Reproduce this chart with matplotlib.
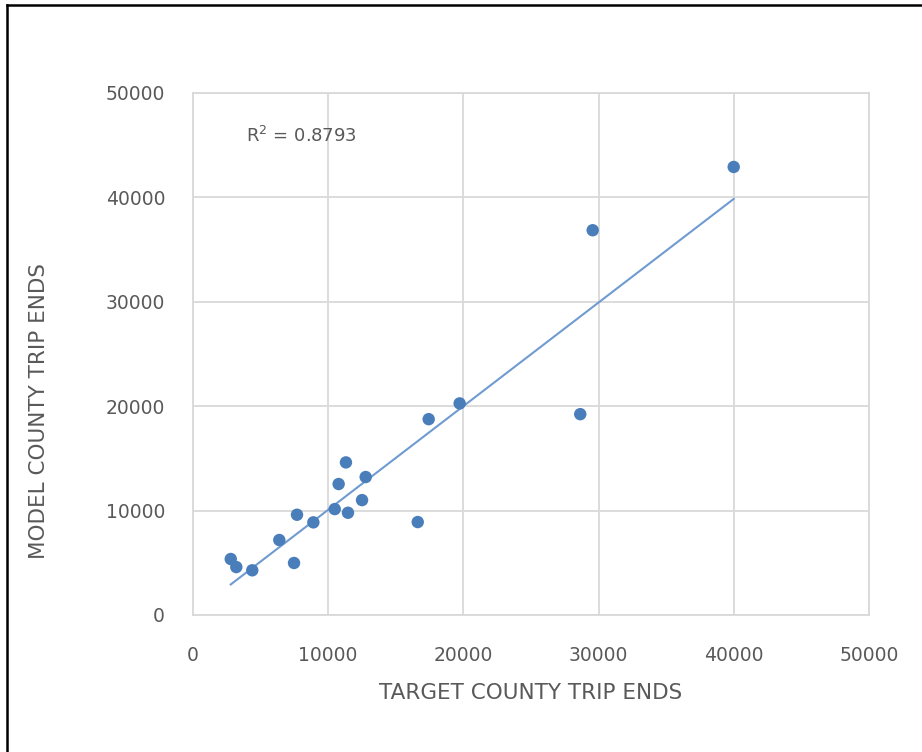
import numpy as np
import matplotlib
matplotlib.use("Agg")
import matplotlib.pyplot as plt
from matplotlib.lines import Line2D

target = [40000, 29570, 28650, 19730, 17440, 11320, 10780, 12780, 12510, 10490,
          11470, 16630, 7700, 8910, 6390, 7480, 2800, 3210, 4390]
model = [42900, 36840, 19230, 20260, 18750, 14610, 12540, 13210, 11000, 10140,
         9790, 8900, 9600, 8870, 7180, 4980, 5360, 4590, 4280]
ticks = [0, 10000, 20000, 30000, 40000, 50000]
r2_text = "R$^2$ = 0.8793"

x = np.array(target, dtype=float)
y = np.array(model, dtype=float)

fig = plt.figure(figsize=(9.22, 7.52), dpi=100)
W, H = 922, 752
ax = fig.add_axes([192.9 / W, 1 - 615 / H, (868.9 - 192.9) / W, (615 - 92.8) / H])

grid_c = "#D9D9D9"
text_c = "#595959"
ax.set_xlim(0, 50000)
ax.set_ylim(0, 50000)
ax.set_xticks(ticks)
ax.set_yticks(ticks)
ax.set_xticklabels([str(t) for t in ticks])
ax.set_yticklabels([str(t) for t in ticks])
ax.grid(True, color=grid_c, linewidth=1.3)
ax.set_axisbelow(True)
for s in ax.spines.values():
    s.set_color(grid_c)
    s.set_linewidth(1.3)
ax.tick_params(length=0, labelsize=13.5, labelcolor=text_c)
ax.tick_params(axis="x", pad=22)
ax.tick_params(axis="y", pad=20)

slope, intercept = np.polyfit(x, y, 1)
xl = np.array([x.min(), x.max()])
ax.plot(xl, slope * xl + intercept, color="#6F9BD1", linewidth=1.5, zorder=2)
ax.scatter(x, y, s=80, color="#4A7EBB", edgecolors="none", zorder=3)

ax.text(3930, 45840, r2_text, fontsize=13, color=text_c, va="center", ha="left")

ax.set_xlabel("TARGET COUNTY TRIP ENDS", fontsize=15.5, color=text_c, labelpad=13)
ax.set_ylabel("MODEL COUNTY TRIP ENDS", fontsize=15.5, color=text_c, labelpad=41)
ax.yaxis.label.set_y(0.39)

fig.add_artist(Line2D([7 / W, 1], [1 - 5 / H, 1 - 5 / H], transform=fig.transFigure,
                      color="black", linewidth=1.8))
fig.add_artist(Line2D([7 / W, 7 / W], [0, 1 - 5 / H], transform=fig.transFigure,
                      color="black", linewidth=1.8))

fig.savefig("out.png", dpi=100, facecolor="white")
